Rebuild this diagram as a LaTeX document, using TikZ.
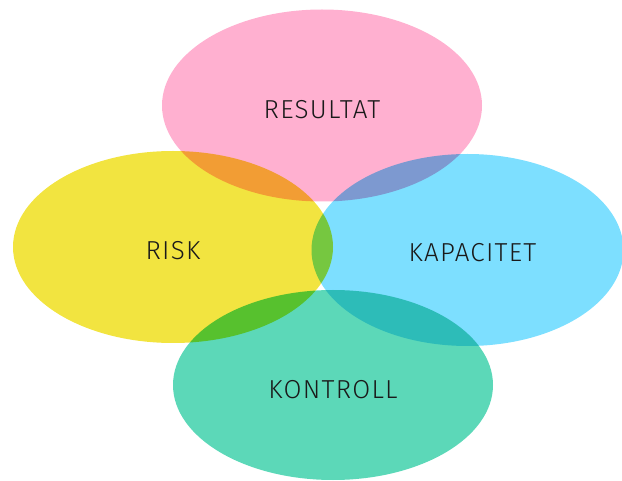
\documentclass[tikz,border=0pt]{standalone}
\usepackage{fontspec}
\setmainfont{Fira Sans}[UprightFont=* Light, LetterSpace=5]
\definecolor{cpink}{RGB}{255,176,208}
\definecolor{cyellow}{RGB}{242,228,64}
\definecolor{cblue}{RGB}{125,223,255}
\definecolor{cgreen}{RGB}{92,216,184}
\definecolor{ctext}{RGB}{26,26,26}
\usetikzlibrary{shapes.geometric}
\tikzset{
  petal/.style={ellipse, minimum width=320pt, minimum height=192pt, inner sep=0pt, draw=none},
  lbl/.style={text=ctext, font=\fontsize{26}{30}\selectfont}
}
\begin{document}
\begin{tikzpicture}[x=1pt,y=-1pt]
\useasboundingbox (0,0) rectangle (622,481);
\begin{scope}[blend group=multiply]
  \node[petal, fill=cpink] (res) at (322,105.5) {};
  \node[petal, fill=cyellow] (risk) at (173,247) {};
  \node[petal, fill=cblue, minimum width=312pt] (kap) at (467.5,250) {};
  \node[petal, fill=cgreen, minimum height=190pt] (kon) at (333,385) {};
\end{scope}
\node[lbl] (tres) at (res) [yshift=-4pt] {RESULTAT};
\node[lbl] (trisk) at (risk) [yshift=-4pt] {RISK};
\node[lbl] (tkap) at (kap) [xshift=5pt,yshift=-3pt] {KAPACITET};
\node[lbl] (tkon) at (kon) [yshift=-5pt] {KONTROLL};
\end{tikzpicture}
\end{document}
